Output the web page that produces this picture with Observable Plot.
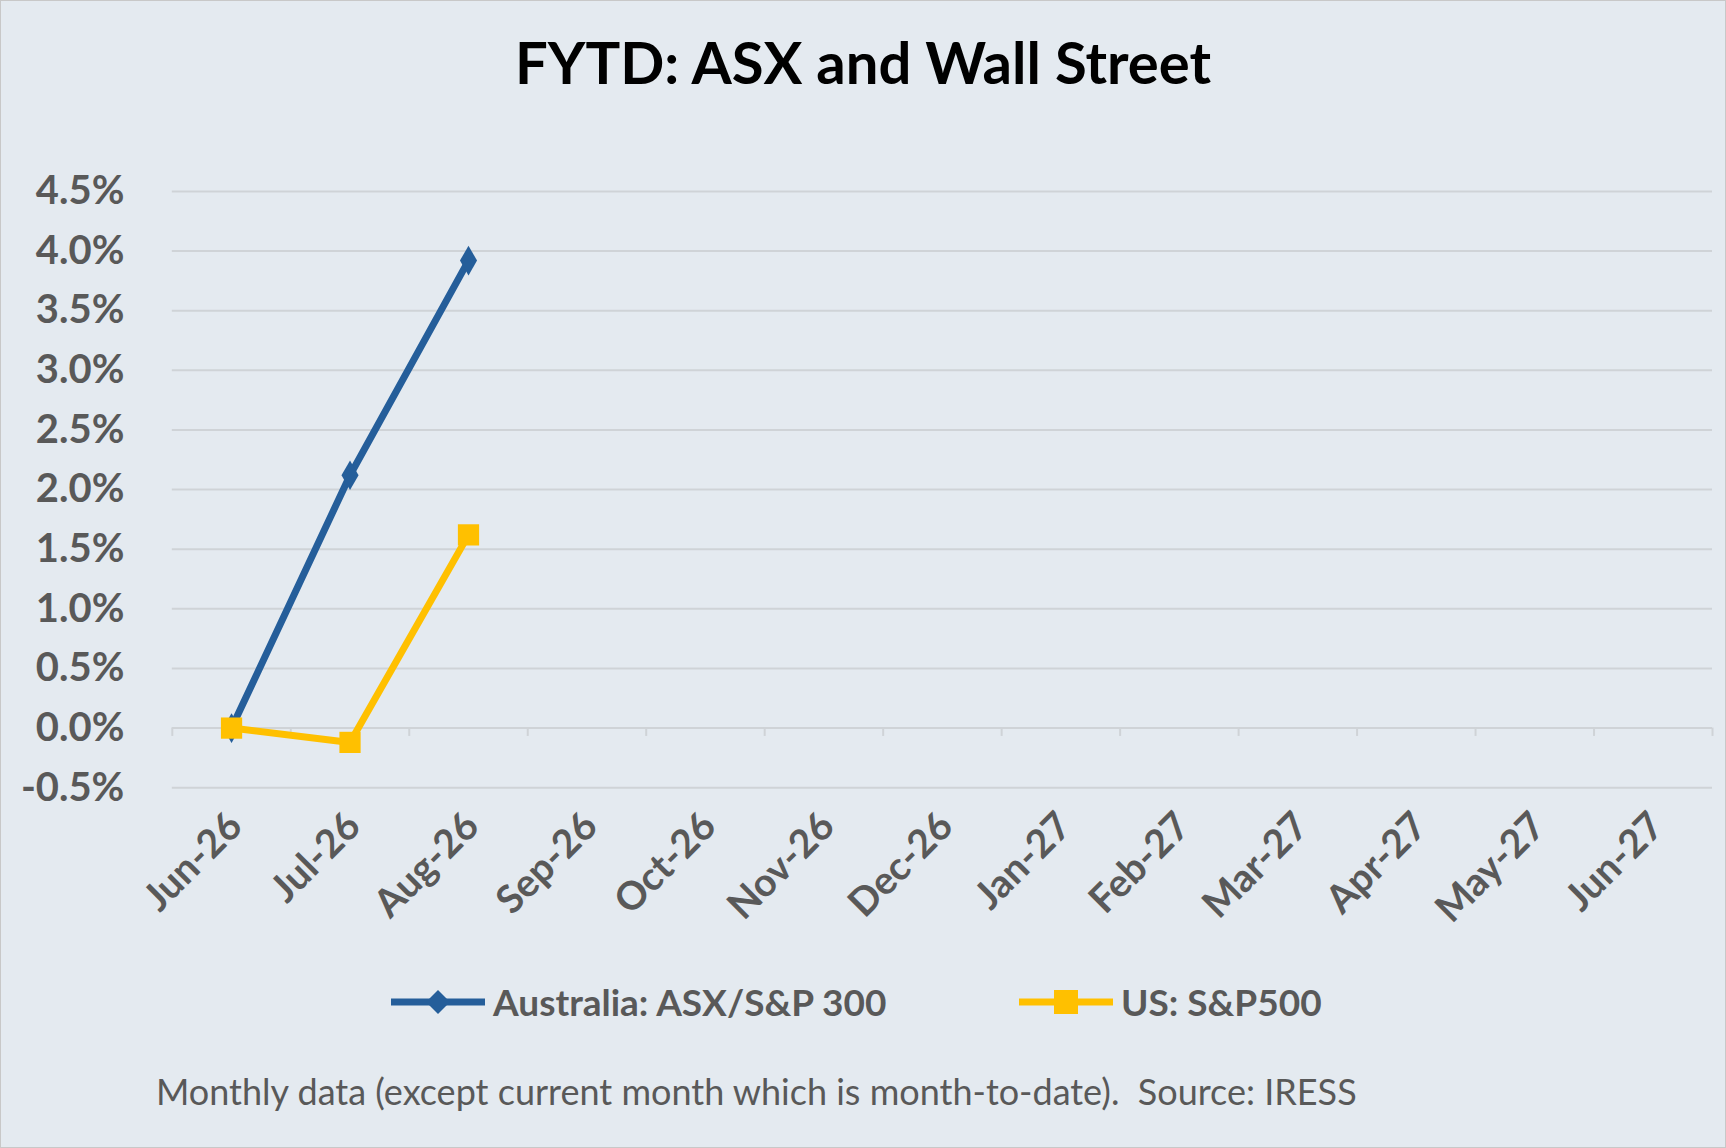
<!DOCTYPE html>
<html><head><meta charset="utf-8">
<script src="https://cdn.jsdelivr.net/npm/d3@7"></script>
<script src="https://cdn.jsdelivr.net/npm/@observablehq/plot@0.6"></script>
<style>
body{margin:0;background:#e4eaf0;font-family:Lato,"Open Sans",sans-serif;}
#wrap{position:relative;width:1724px;height:1146px;border:1px solid #c8c8c8;background:#e4eaf0;overflow:hidden}
#title{position:absolute;top:26px;width:100%;text-align:center;font-weight:bold;font-size:58px;color:#000}
#chart{position:absolute;top:120px;left:0}
#legend{position:absolute;top:978px;left:0;width:100%;font-weight:bold;font-size:37px;color:#595959}
#caption{position:absolute;top:1068px;left:155px;font-size:36px;color:#595959}
.li{position:absolute;display:flex;align-items:center;gap:4px}
</style></head><body>
<div id="wrap">
<div id="title">FYTD: ASX and Wall Street</div>
<div id="chart"></div>
<div id="legend">
 <div class="li" style="left:388px"><svg width="100" height="30"><line x1="2" x2="96" y1="15" y2="15" stroke="#255e9a" stroke-width="7"/><path d="M49 3 L61 15 L49 27 L37 15Z" fill="#255e9a"/></svg><span>Australia: ASX/S&amp;P 300</span></div>
 <div class="li" style="left:1016px"><svg width="100" height="30"><line x1="2" x2="96" y1="15" y2="15" stroke="#ffc000" stroke-width="7"/><rect x="37" y="3" width="24" height="24" fill="#ffc000"/></svg><span>US: S&amp;P500</span></div>
</div>
<div id="caption">Monthly data (except current month which is month-to-date).&nbsp; Source: IRESS</div>
</div>
<script>
const months=["Jun-26","Jul-26","Aug-26","Sep-26","Oct-26","Nov-26","Dec-26","Jan-27","Feb-27","Mar-27","Apr-27","May-27","Jun-27"];
const dataMonths=["Jun-26","Jul-26","Aug-26"];
const asx=[0,2.12,3.92];
const us=[0,-0.12,1.62];
const yTicks=[-0.5,0,0.5,1,1.5,2,2.5,3,3.5,4,4.5];
const A=dataMonths.map((m,i)=>({x:months.indexOf(m),y:asx[i]}));
const U=dataMonths.map((m,i)=>({x:months.indexOf(m),y:us[i]}));
const bounds=d3.range(months.length+1).map(i=>i-0.5);
const plot=Plot.plot({
 width:1726,height:860,marginTop:70,marginBottom:193,marginLeft:171,marginRight:13,
 style:{background:"transparent",fontFamily:"Lato,'Open Sans',sans-serif"},
 x:{domain:[-0.5,months.length-0.5],label:null},
 y:{domain:[-0.5,4.5],label:null},
 marks:[
  Plot.ruleY(yTicks,{stroke:"#cfd3d7",strokeWidth:2}),
  Plot.ruleX(bounds,{y1:0,y2:-0.07,stroke:"#cfd3d7",strokeWidth:2}),
  Plot.axisY(yTicks,{label:null,tickSize:0,tickPadding:48,tickFormat:d=>d.toFixed(1)+"%",fontSize:40,fontWeight:"bold",fill:"#595959"}),
  Plot.axisX(d3.range(months.length),{label:null,tickSize:0,tickRotate:-45,tickFormat:i=>months[i],fontSize:39,fontWeight:"bold",fill:"#595959",tickPadding:18,dx:4,dy:14}),
  Plot.line(A,{x:"x",y:"y",stroke:"#255e9a",strokeWidth:7}),
  Plot.dot(A,{x:"x",y:"y",symbol:"diamond",r:9,fill:"#255e9a"}),
  Plot.line(U,{x:"x",y:"y",stroke:"#ffc000",strokeWidth:7}),
  Plot.dot(U,{x:"x",y:"y",symbol:"square",r:12,fill:"#ffc000"})
 ]});
document.getElementById("chart").append(plot);
</script></body></html>
